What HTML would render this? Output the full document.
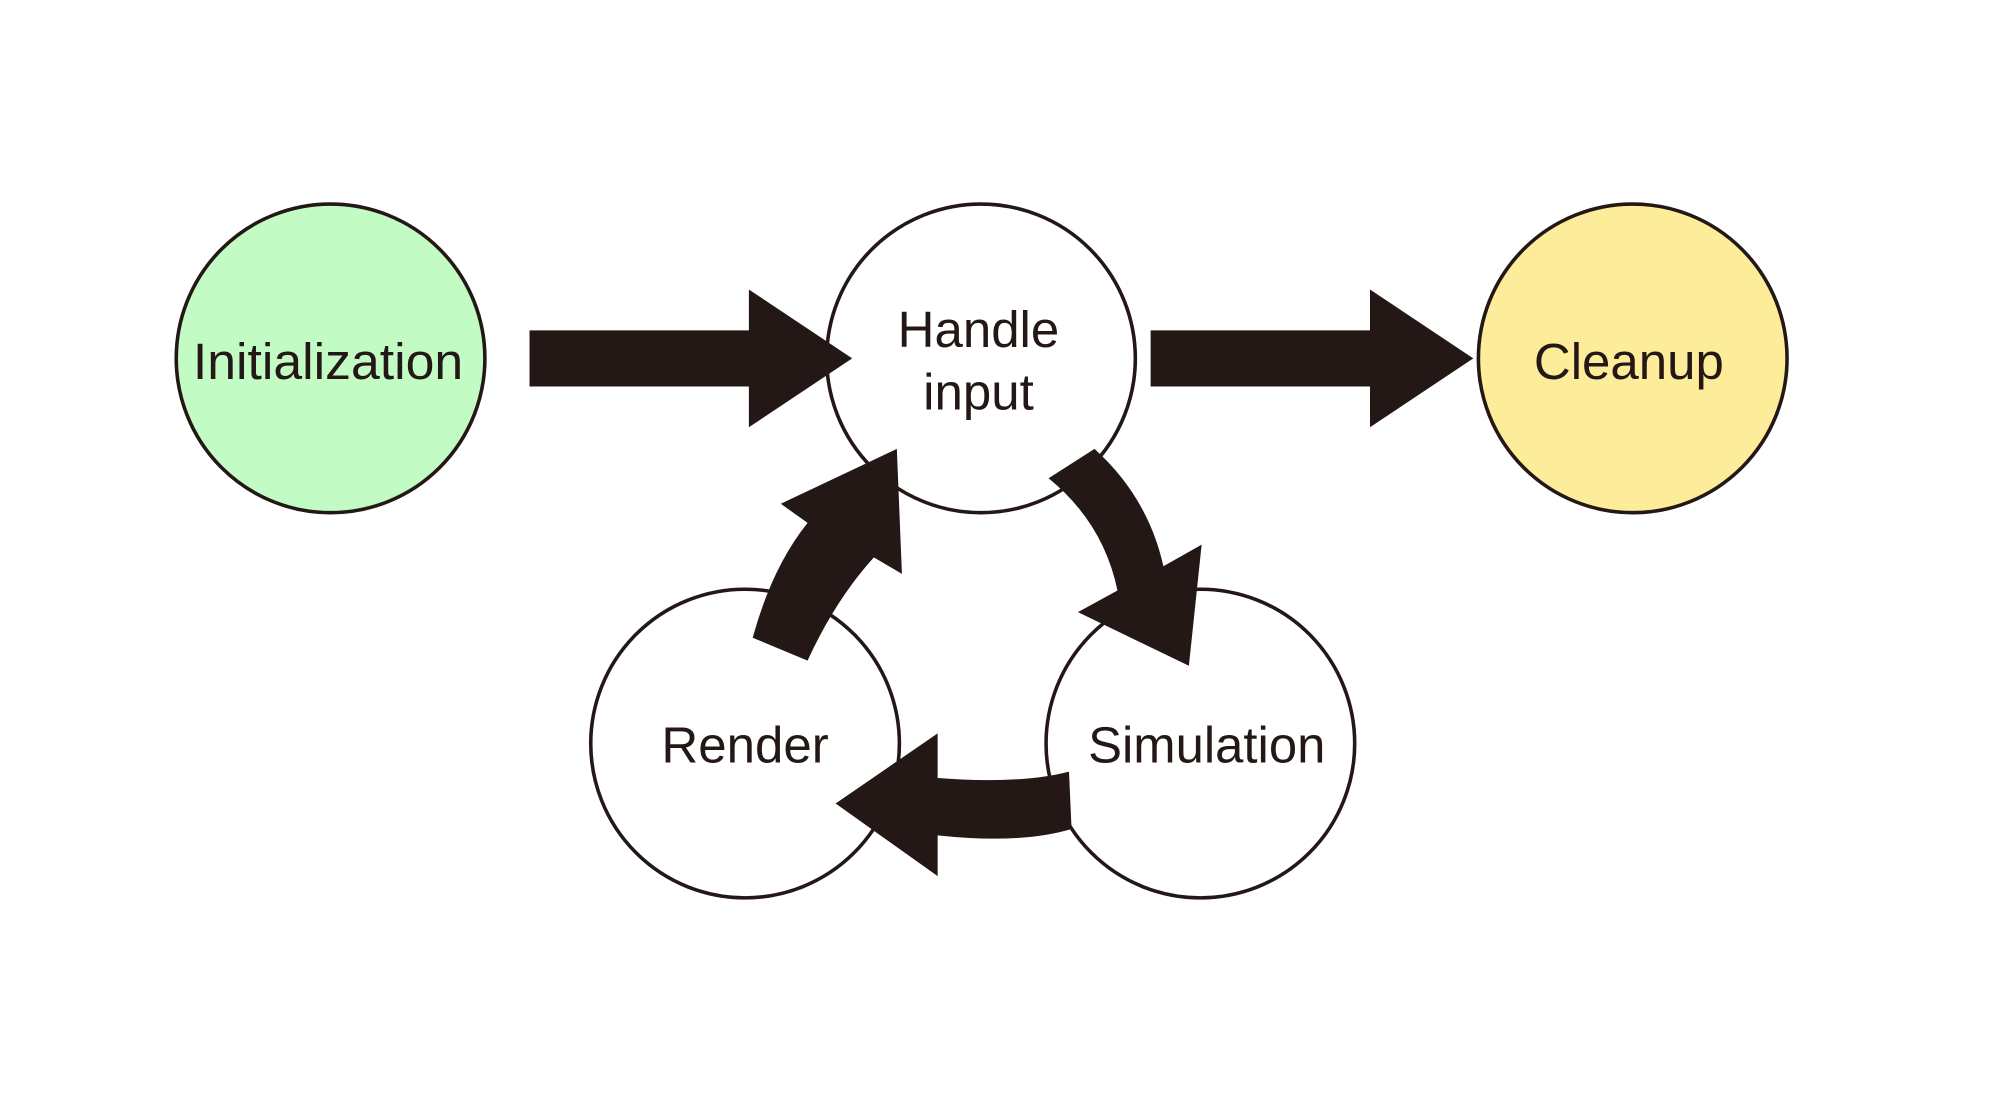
<!DOCTYPE html>
<html><head><meta charset="utf-8"><style>html,body{margin:0;padding:0;background:#fff;}svg{display:block}</style></head>
<body>
<svg width="1999" height="1093" viewBox="0 0 1567 857" xmlns="http://www.w3.org/2000/svg">
<rect width="1567" height="857" fill="#fff"/>
<g stroke="#231815" stroke-width="2.8">
<circle cx="259" cy="281" r="121" fill="#c2fcc4"/>
<circle cx="769" cy="281" r="121" fill="#fff"/>
<circle cx="1280" cy="281" r="121" fill="#fdec9a"/>
<circle cx="584" cy="583" r="121" fill="#fff"/>
<circle cx="941" cy="583" r="121" fill="#fff"/>
</g>
<g fill="#231815">
<path d="M415,259 L587,259 L587,227 L668,281 L587,335 L587,303 L415,303 Z"/>
<path d="M902,259 L1074,259 L1074,227 L1155,281 L1074,335 L1074,303 L902,303 Z"/>
<path d="M822,375 Q865,410 876,463 L845,480 L932,522 L942,427 L912,444 Q900,390 858,352 Z"/>
<path d="M838,605 Q800,615 735,610 L735,575 L655,630 L735,687 L735,655 Q800,662 840,650 Z"/>
<path d="M590,500 Q605,445 633,410 L612,395 L703,352 L707,450 L685,437 Q655,470 633,518 Z"/>
</g>
<g font-family="Liberation Sans, sans-serif" font-size="40" fill="#231815" text-anchor="middle">
<text x="257" y="297" textLength="212" lengthAdjust="spacingAndGlyphs">Initialization</text>
<text x="767" y="272">Handle</text>
<text x="767" y="321">input</text>
<text x="1277" y="297">Cleanup</text>
<text x="584" y="598">Render</text>
<text x="946" y="598" textLength="186" lengthAdjust="spacingAndGlyphs">Simulation</text>
</g>
</svg>
</body></html>
